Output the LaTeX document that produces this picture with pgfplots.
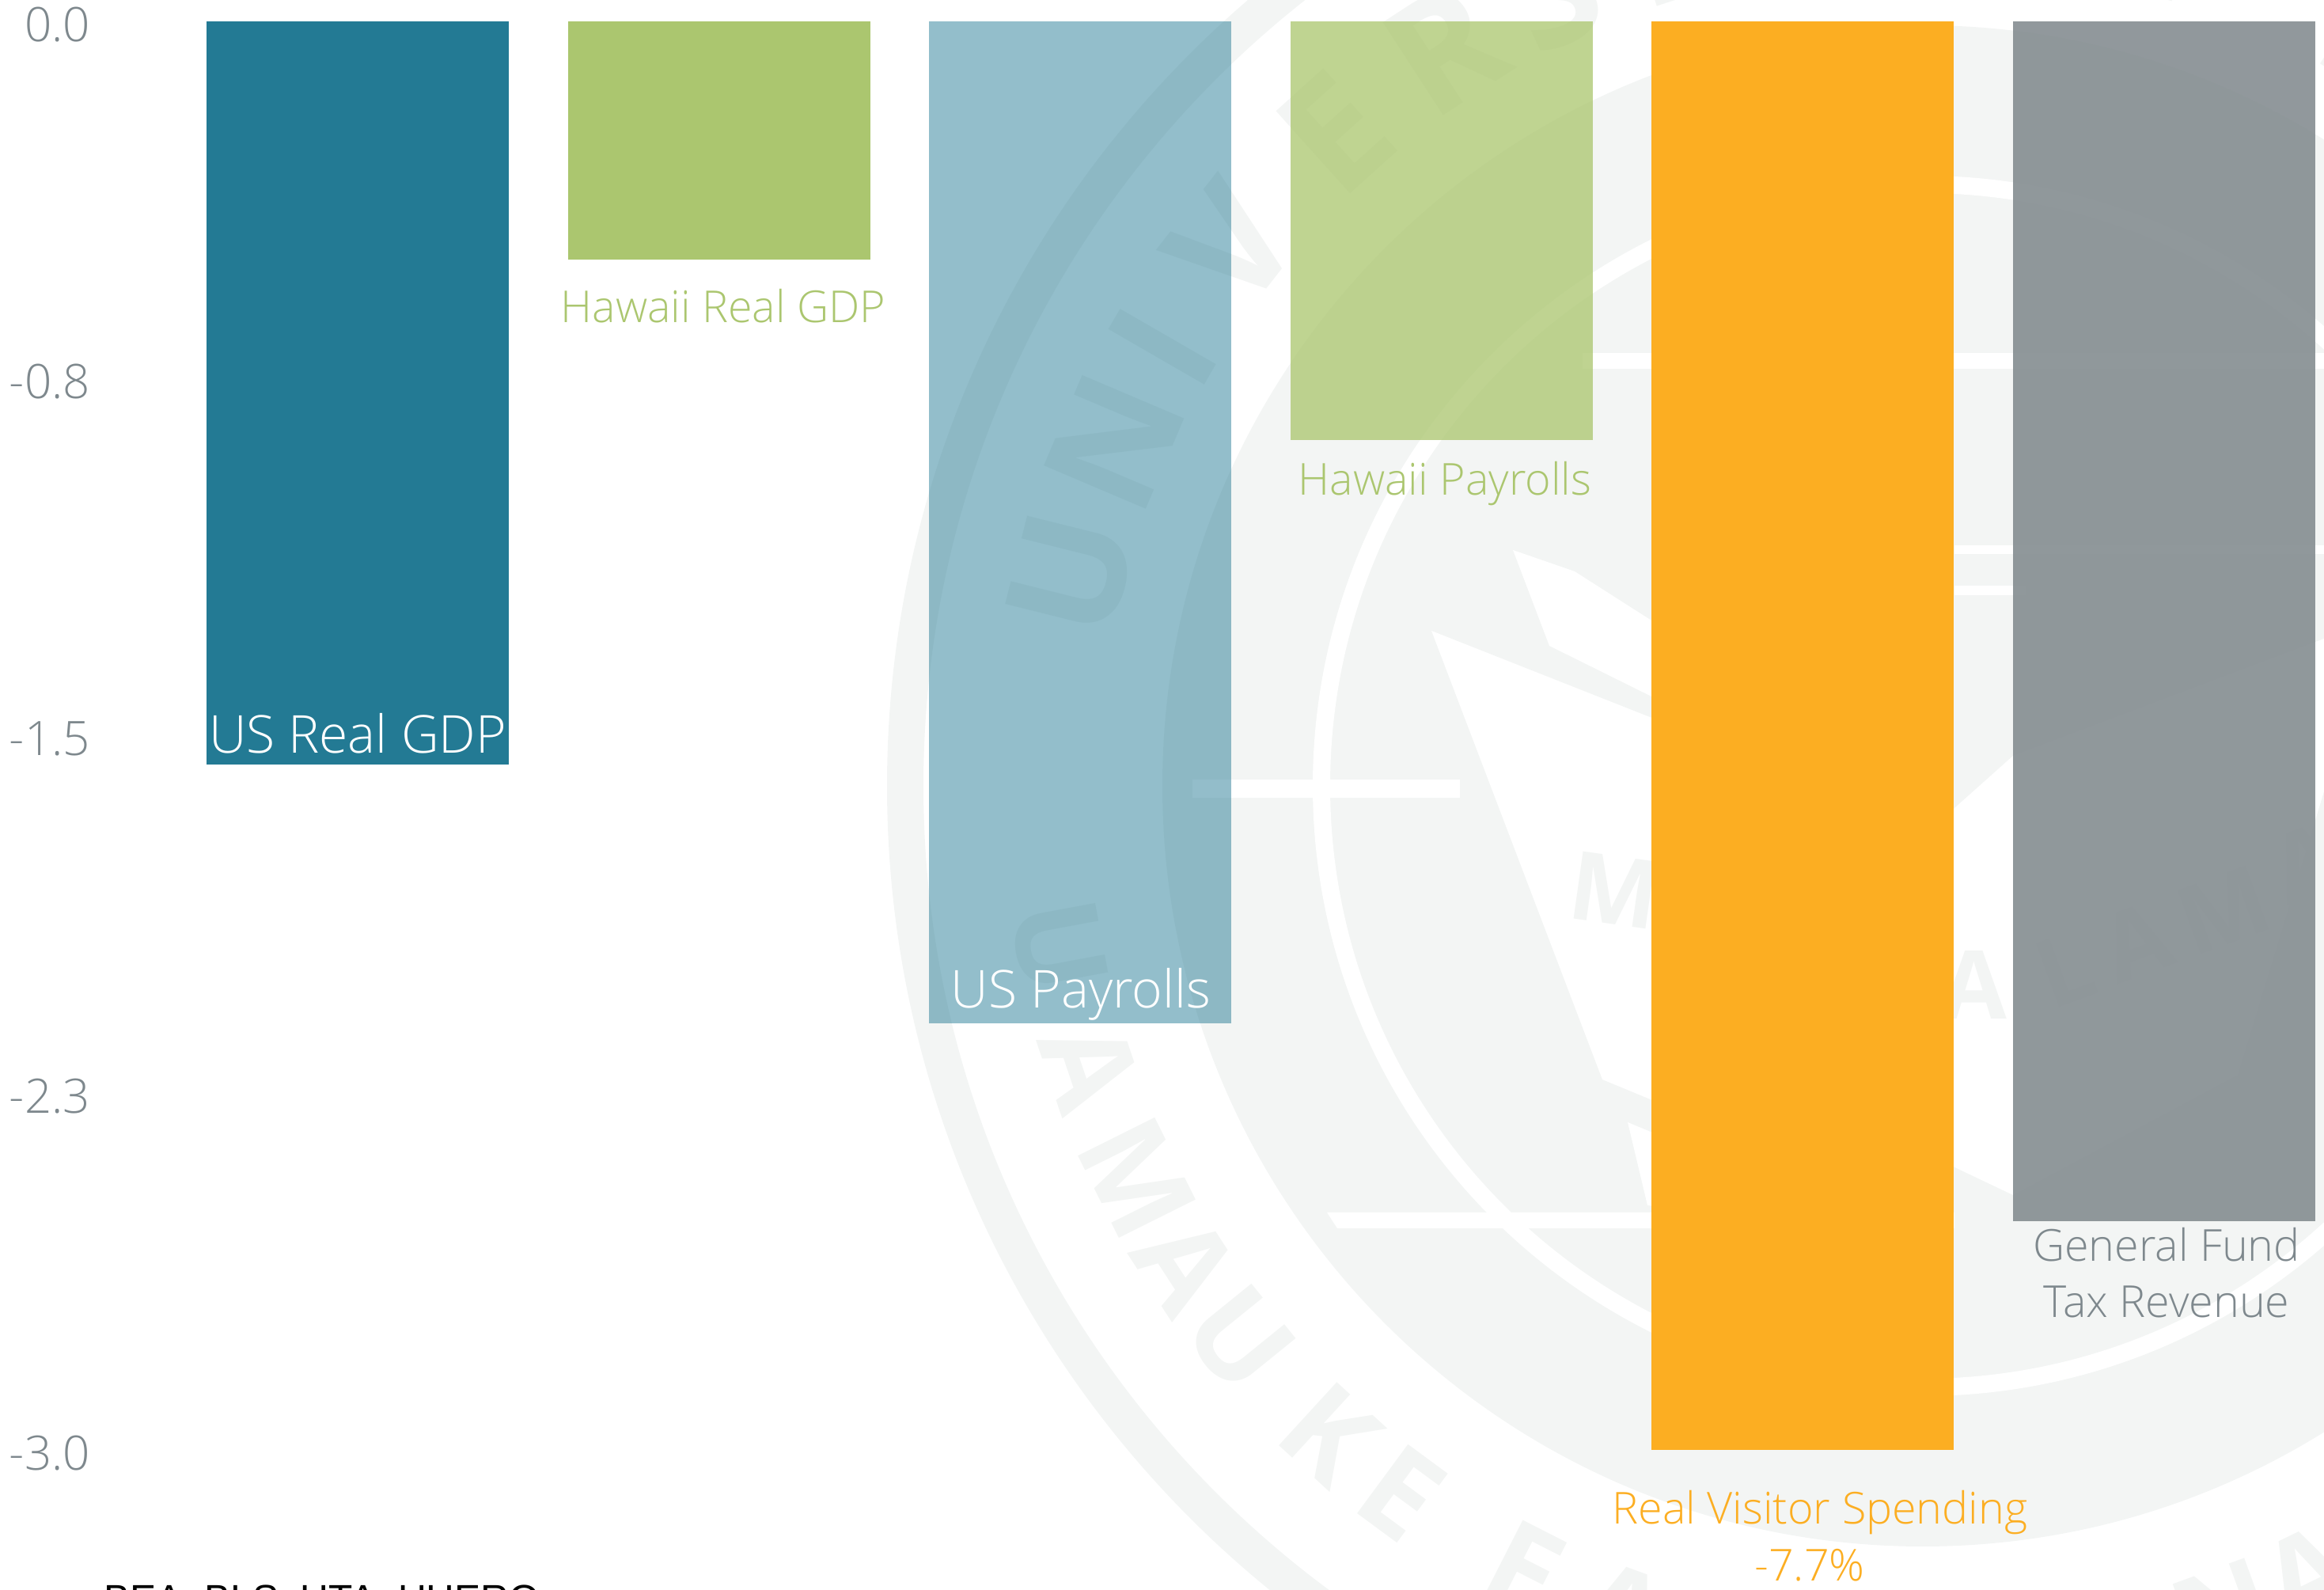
\documentclass[border=0pt]{standalone}
\usepackage{fontspec}
\usepackage{pgfplots}
\pgfplotsset{compat=1.18}
\setmainfont{Open Sans Light}
\newfontfamily\regf{Open Sans}
\newfontfamily\srcf{Liberation Sans}
\definecolor{wm}{HTML}{F3F5F4}
\definecolor{cteal}{HTML}{237A94}
\definecolor{cgreen}{HTML}{ABC66F}
\definecolor{corange}{HTML}{FCAE22}
\definecolor{cgray}{HTML}{858D91}
\definecolor{ctext}{HTML}{7E888D}
\begin{document}
\begin{tikzpicture}
\useasboundingbox (0,0) rectangle (734.25pt,502.25pt);
\clip (0,0) rectangle (734.25pt,502.25pt);
% watermark seal
\begin{scope}[x=0.25pt,y=0.25pt,shift={(607.5pt,254pt)}]
  \fill[wm,even odd rule] (0,0) circle[radius=1309] circle[radius=1263];
  \fill[wm] (0,0) circle[radius=961];
  \draw[white,line width=5.5pt] (0,0) circle[radius=760];
  \foreach \l/\a in {U/166,N/157,I/150,V/142,E/132,R/123,S/115,I/108,T/101,Y/93,O/80,F/72,H/58,A/49,W/39,A/29,I/22,I/16}
    \node[text=wm,font=\regf\fontsize{49}{49}\bfseries\selectfont,rotate=\a-90] at (\a:1110) {\l};
  \foreach \l/\a in {U/190.5,A/198.6,M/206.5,A/213,U/219,K/227.5,E/233.6,E/243,A/250,O/258,K/266,A/272,A/280,I/285,N/290,A/296,I/303,K/310,A/316}
    \node[text=wm,font=\regf\fontsize{38}{38}\bfseries\selectfont,rotate=\a+90] at (\a:1110) {\l};
\end{scope}
\begin{scope}[x=0.25pt,y=-0.25pt,shift={(0pt,502.25pt)}]
  \fill[white] (1507,985) rectangle (1845,1008);
  \fill[white] (1677,1532) -- (2470,1532) -- (2470,1552) -- (1690,1552) -- cycle;
  \fill[white] (2000,446) rectangle (2937,466);
  \fill[white] (2470,689) rectangle (2937,700);
  \fill[white] (2470,740) rectangle (2560,752);
  \fill[white] (1809,797) -- (2100,912) -- (2100,1395) -- (2025,1364) -- cycle;
  \fill[white] (1912,695) -- (1990,722) -- (2087,784) -- (2087,880) -- (1958,816) -- cycle;
  \fill[white] (2057,1418) -- (2100,1436) -- (2100,1525) -- (2082,1523) -- cycle;
  \fill[white] (2460,1030) -- (2544,955) -- (2937,807) -- (2937,1000) -- (2828,1358) -- (2544,1510) -- (2460,1470) -- cycle;
  \foreach \l/\x/\y/\r in {M/2040/1125/-8,A/2495/1245/0,L/2610/1225/20,A/2700/1190/20,M/2810/1150/20,A/2915/1090/20}
    \node[text=wm,font=\regf\fontsize{30}{30}\bfseries\selectfont,rotate=\r] at (\x,\y) {\l};
\end{scope}
\begin{axis}[
  at={(50pt,495.5pt)}, anchor=north west,
  scale only axis, width=684.25pt, height=451.25pt,
  xmin=-0.5519, xmax=5.4423, ymin=-3, ymax=0,
  clip mode=individual,
  axis line style={draw=none},
  major tick length=0pt,
  xtick=\empty,
  ytick={0,-0.75,-1.5,-2.25,-3},
  yticklabels={0.0,-0.8,-1.5,-2.3,-3.0},
  yticklabel style={font=\fontsize{15}{15}\selectfont,text=ctext,xshift=-18pt,yshift=-1pt},
  ybar, bar shift=0pt, bar width=95.5pt,
]
\addplot[draw=none,fill=cteal] coordinates {(0,-1.56)};
\addplot[draw=none,fill=cgreen] coordinates {(1,-0.50)};
\addplot[draw=none,fill=cteal,fill opacity=0.49] coordinates {(2,-2.105)};
\addplot[draw=none,fill=cgreen,fill opacity=0.76] coordinates {(3,-0.88)};
\addplot[draw=none,fill=corange] coordinates {(4,-7.7)};
\addplot[draw=none,fill=cgray,fill opacity=0.9] coordinates {(5,-2.52)};
\end{axis}
\begin{scope}[x=0.25pt,y=-0.25pt,shift={(0pt,502.25pt)}]
  \tikzset{lab/.style={anchor=base,inner sep=0pt}}
  \node[lab,text=white,font=\fontsize{16.5}{16.5}\selectfont] at (452,952) {US Real GDP};
  \node[lab,text=white,font=\fontsize{16.5}{16.5}\selectfont] at (1366,1274) {US Payrolls};
  \node[lab,text=cgreen,font=\fontsize{13.9}{13.9}\selectfont] at (914,408) {Hawaii Real GDP};
  \node[lab,text=cgreen,font=\fontsize{13.9}{13.9}\selectfont] at (1826,626) {Hawaii Payrolls};
  \node[lab,text=corange,font=\fontsize{13.9}{13.9}\selectfont] at (2300,1926) {Real Visitor Spending};
  \node[lab,text=corange,font=\fontsize{13.9}{13.9}\selectfont] at (2287,1998) {-7.7\%};
  \node[lab,text=ctext,font=\fontsize{13.9}{13.9}\selectfont] at (2738,1594) {General Fund};
  \node[lab,text=ctext,font=\fontsize{13.9}{13.9}\selectfont] at (2738,1665) {Tax Revenue};
  \node[anchor=base west,inner sep=0pt,text=black,font=\srcf\fontsize{12.4}{12.4}\selectfont] at (131,2038) {BEA, BLS, UTA, UHERO};
\end{scope}
\end{tikzpicture}
\end{document}
